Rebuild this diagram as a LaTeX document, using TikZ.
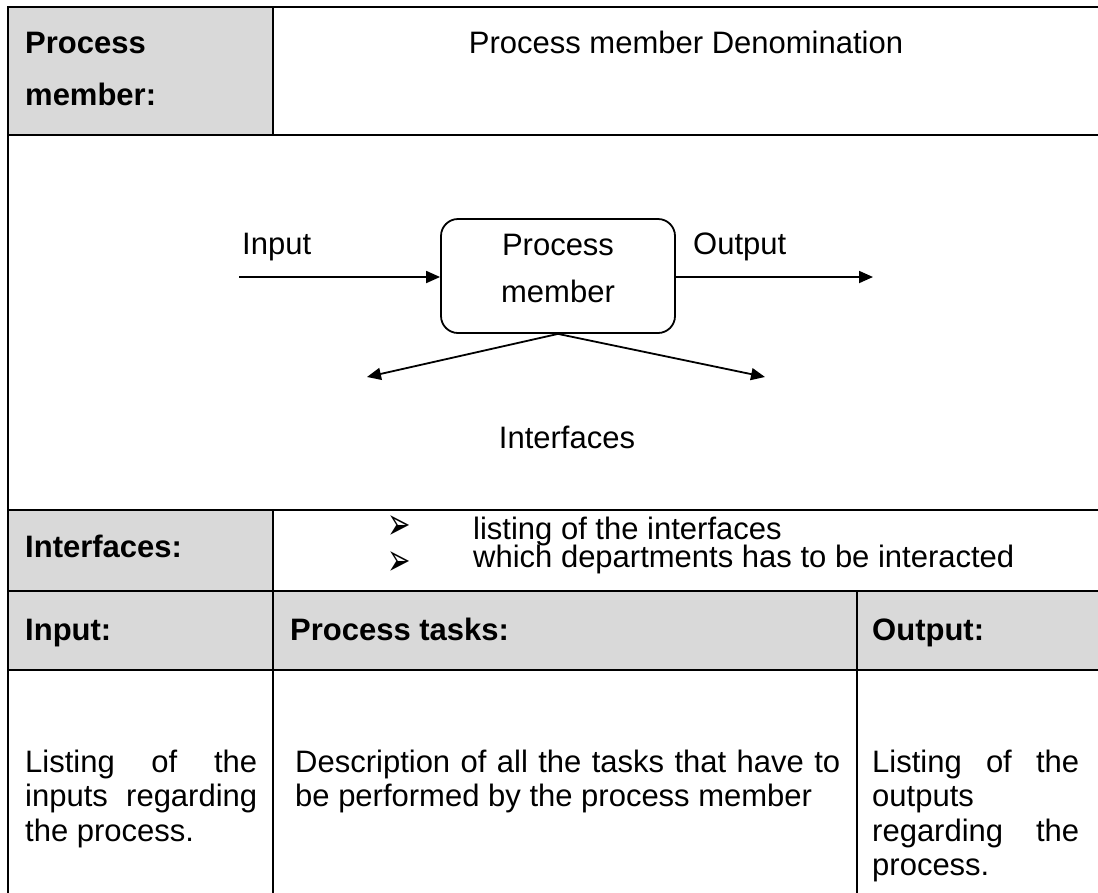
\documentclass[tikz,border=0pt]{standalone}
\usepackage{graphicx}
\usepackage{fontspec}
\setmainfont{Liberation Sans}
\newfontfamily\dingfont{DejaVu Sans}
\usetikzlibrary{arrows.meta}
\definecolor{cellgrey}{RGB}{217,217,217}
% one line of a justified paragraph, stretched to the full width
\newcommand\fullline[1]{\makebox[\linewidth][s]{#1}}
% tall arrowhead list marker
\newcommand\listmarker{\scalebox{1}[1.6]{\dingfont ➢}}
\begin{document}
\begin{tikzpicture}[x=1pt,y=-1pt,
  rule/.style={line width=2.6pt,line cap=rect},
  txt/.style={inner sep=0pt,anchor=base west,font=\fontsize{31}{34.5}\selectfont},
  hdr/.style={txt,font=\fontsize{31}{34.5}\selectfont\bfseries},
  bullet/.style={inner sep=0pt,anchor=west,font=\fontsize{28}{28}\selectfont},
  flowarrow/.style={line width=1.8pt,-{Triangle[length=14pt,width=12pt]}},
  pmbox/.style={draw,line width=1.8pt,rounded corners=17pt,minimum width=234pt,minimum height=114pt,inner sep=0pt}]
\useasboundingbox (0,0) rectangle (1098,892);
\clip (0,0) rectangle (1098,892);

% grey label cells
\fill[cellgrey] (8,7) rectangle (273,135);
\fill[cellgrey] (8,510) rectangle (273,591);
\fill[cellgrey] (8,591) rectangle (1110,670);

% table rules
\draw[rule] (1110,7) -- (8,7) -- (8,900);
\draw[rule] (8,135) -- (1110,135);
\draw[rule] (8,510) -- (1110,510);
\draw[rule] (8,591) -- (1110,591);
\draw[rule] (8,670) -- (1110,670);
\draw[rule] (273,7) -- (273,135);
\draw[rule] (273,510) -- (273,900);
\draw[rule] (857,591) -- (857,900);

% first row
\node[hdr] (pmlabel) at (25,53) {Process};
\node[hdr] (pmlabel2) at (25,105) {member:};
\node[txt,anchor=base] (pmname) at (686,53) {Process member Denomination};

% process member diagram
\node[pmbox] (pm) at (558,276) {};
\node[txt,anchor=base] (pmt1) at (558,255) {Process};
\node[txt,anchor=base] (pmt2) at (558,302) {member};
\coordinate (inL) at (239,277);
\coordinate (outR) at (873,277);
\coordinate (ifL) at (367,377);
\coordinate (ifR) at (765,377);
\draw[flowarrow] (inL) -- (pm.west |- inL);
\draw[flowarrow] (pm.east |- outR) -- (outR);
\draw[flowarrow] (pm.south) -- (ifL);
\draw[flowarrow] (pm.south) -- (ifR);
\node[txt] (inlab) at (242,254) {Input};
\node[txt] (outlab) at (693,254) {Output};
\node[txt,anchor=base] (iflab) at (567,448) {Interfaces};

% interfaces row
\node[hdr] (iflabel) at (25,557) {Interfaces:};
\node[bullet] (b1) at (387,528) {\listmarker};
\node[bullet] (b2) at (387,564) {\listmarker};
\node[txt] (l1) at (473,539) {listing of the interfaces};
\node[txt] (l2) at (473,567) {which departments has to be interacted};

% column headings
\node[hdr] (hin) at (25,640) {Input:};
\node[hdr] (htask) at (290,640) {Process tasks:};
\node[hdr] (hout) at (872,640) {Output:};

% column contents
\node[txt] (cin) at (25,772) {\parbox[t]{232pt}{\fontsize{31}{34.5}\selectfont
  \fullline{Listing of the}\\ \fullline{inputs regarding}\\ the process.}};
\node[txt] (ctask) at (295,772) {\parbox[t]{545pt}{\fontsize{31}{34.5}\selectfont
  \fullline{Description of all the tasks that have to}\\ be performed by the process member}};
\node[txt] (cout) at (872,772) {\parbox[t]{207pt}{\fontsize{31}{34.5}\selectfont
  \fullline{Listing of the}\\ outputs\\ \fullline{regarding the}\\ process.}};
\end{tikzpicture}
\end{document}
